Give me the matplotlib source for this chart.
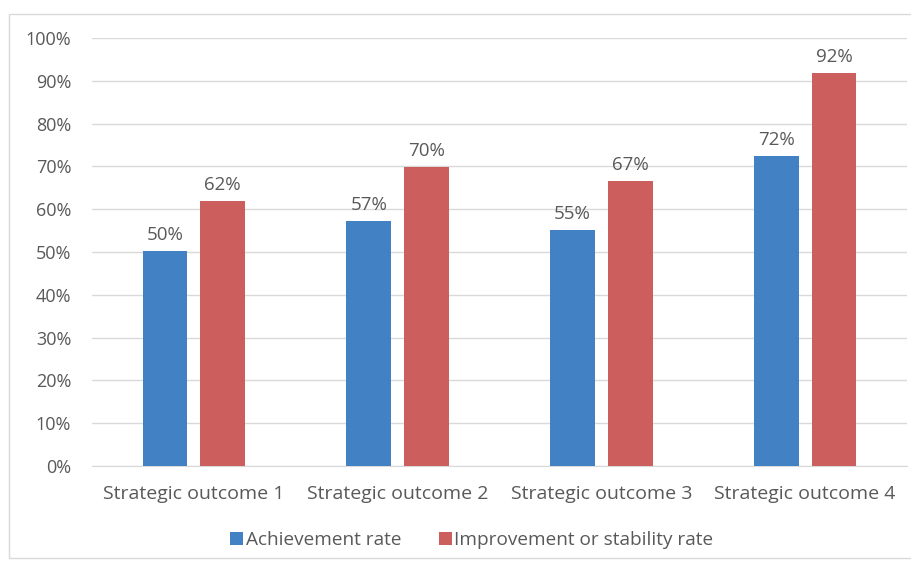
import numpy as np
import matplotlib.pyplot as plt
from matplotlib.patches import Rectangle

categories = ['Strategic outcome 1', 'Strategic outcome 2', 'Strategic outcome 3', 'Strategic outcome 4']
achievement = [0.503, 0.572, 0.551, 0.724]
improvement = [0.620, 0.699, 0.667, 0.918]
labels_ach = ['50%', '57%', '55%', '72%']
labels_imp = ['62%', '70%', '67%', '92%']

plt.rcParams['font.family'] = ['Open Sans', 'DejaVu Sans']
grey = '#595959'

fig = plt.figure(figsize=(9.12, 5.63), dpi=100)
fig.patches.append(Rectangle((9/912, 5/563), 0.995, 544/563, transform=fig.transFigure,
                             fill=False, edgecolor='#d9d9d9', linewidth=1))
ax = fig.add_axes([92/912, 97/563, 815/912, 428/563])

x = np.arange(len(categories))
w = 0.22
off = 0.142
b1 = ax.bar(x - off, achievement, w, color='#4281c3', label='Achievement rate', zorder=3)
b2 = ax.bar(x + off, improvement, w, color='#cd5e5e', label='Improvement or stability rate', zorder=3)

for rect, t in zip(b1, labels_ach):
    ax.text(rect.get_x() + rect.get_width() / 2, rect.get_height() + 0.016, t,
            ha='center', va='bottom', fontsize=13.5, color=grey)
for rect, t in zip(b2, labels_imp):
    ax.text(rect.get_x() + rect.get_width() / 2, rect.get_height() + 0.016, t,
            ha='center', va='bottom', fontsize=13.5, color=grey)

ax.set_xlim(-0.5, 3.5)
ax.set_ylim(0, 1)
ax.set_yticks(np.arange(0, 1.01, 0.1))
ax.set_yticklabels([f'{int(round(v*100))}%' for v in np.arange(0, 1.01, 0.1)])
ax.set_xticks(x)
ax.set_xticklabels(categories)
ax.tick_params(axis='both', length=0, colors=grey)
ax.tick_params(axis='y', pad=15, labelsize=13)
ax.tick_params(axis='x', pad=14, labelsize=14)
ax.grid(axis='y', color='#d9d9d9', linewidth=1, zorder=0)
for s in ['top', 'right', 'left']:
    ax.spines[s].set_visible(False)
ax.spines['bottom'].set_color('#d9d9d9')

leg = fig.legend(handles=[b1, b2], loc='center', bbox_to_anchor=(472/912, 1 - 540/563), ncol=2,
                 frameon=False, fontsize=13.7, handlelength=0.65, handleheight=0.65,
                 handletextpad=0.15, columnspacing=2.0)
for t in leg.get_texts():
    t.set_color(grey)

fig.savefig('out.png', dpi=100)
